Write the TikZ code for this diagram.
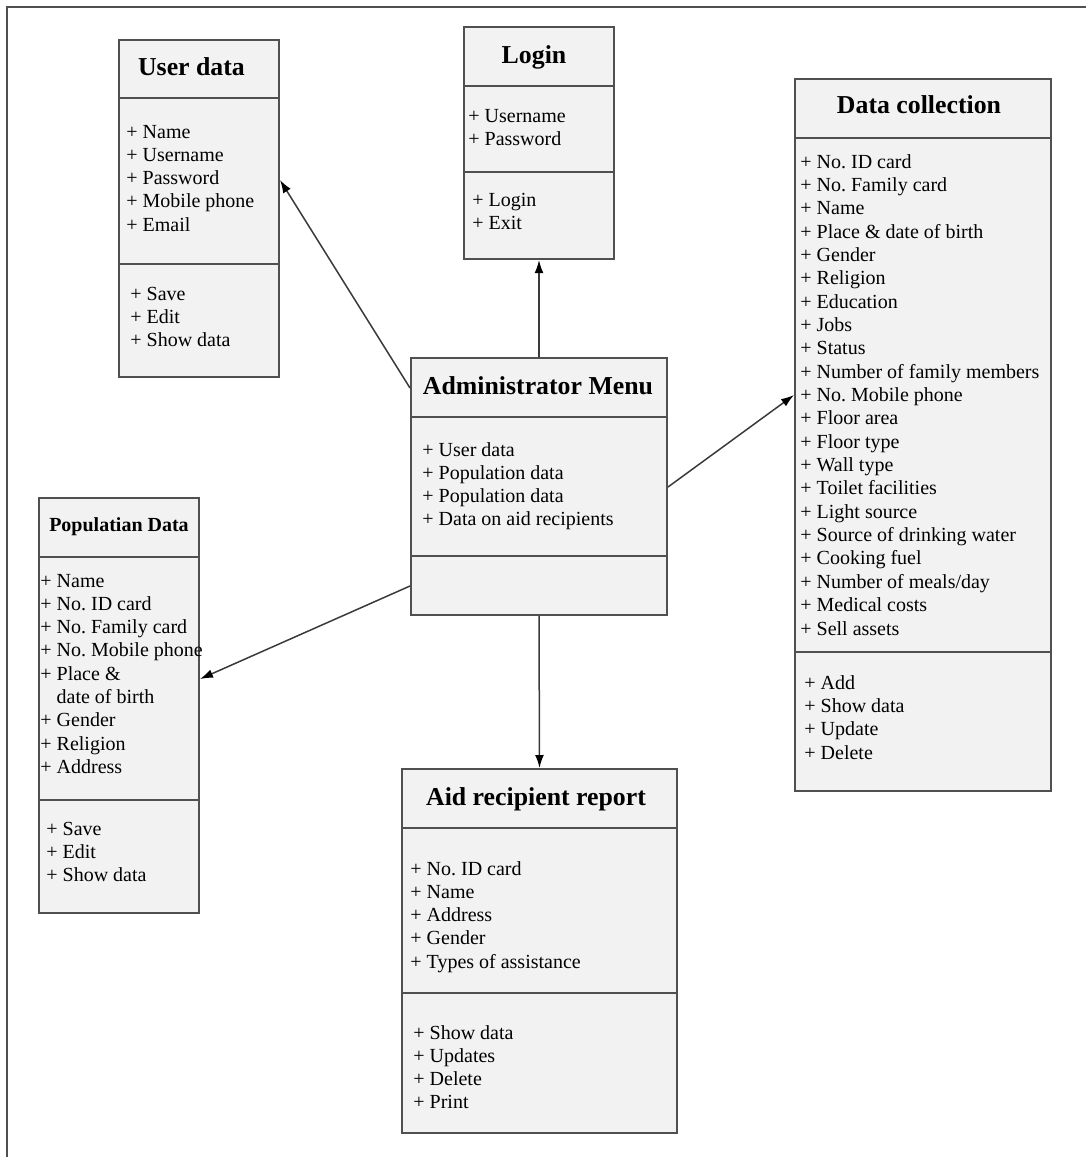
\documentclass[tikz,border=0pt]{standalone}
\usepackage{fontspec}
\setmainfont{Liberation Serif}
\usetikzlibrary{arrows.meta,calc}
\definecolor{boxfill}{HTML}{F2F2F2}
\definecolor{boxline}{HTML}{505050}
\definecolor{lineclr}{HTML}{3A3A3A}
\frenchspacing
\tikzset{
  classbox/.style={draw=boxline, fill=boxfill, line width=1pt, anchor=north west, inner sep=0pt},
  sepline/.style={draw=boxline, line width=1pt},
  conn/.style={draw=lineclr, line width=0.75pt, -{Latex[length=6.5pt,width=4.4pt,color=black]}},
  item/.style={anchor=base west, inner sep=0pt, font=\fontsize{10}{12}\selectfont},
  title/.style={anchor=base, inner sep=0pt, font=\fontsize{12.9}{15}\selectfont\bfseries},
  smalltitle/.style={anchor=base, inner sep=0pt, font=\fontsize{10}{12}\selectfont\bfseries},
}
\begin{document}
\begin{tikzpicture}[x=0.5pt,y=-0.5pt]
\useasboundingbox (0,0) rectangle (1086,1157);
% outer frame
\draw[draw=boxline, line width=1pt] (7,1157) -- (7,7) -- (1086,7);

% ---------- boxes ----------
\node[classbox, minimum width=80pt, minimum height=168.5pt] (user) at (118,39) {};
\node[classbox, minimum width=75pt, minimum height=116pt] (login) at (463,26) {};
\node[classbox, minimum width=128pt, minimum height=356pt] (dc) at (794,78) {};
\node[classbox, minimum width=128pt, minimum height=128.5pt] (admin) at (410,357) {};
\node[classbox, minimum width=80pt, minimum height=207.5pt] (pop) at (38,497) {};
\node[classbox, minimum width=137.5pt, minimum height=182pt] (aid) at (401,768) {};

% ---------- separators ----------
\draw[sepline] (user.west |- 0,98) -- (user.east |- 0,98);
\draw[sepline] (user.west |- 0,264) -- (user.east |- 0,264);
\draw[sepline] (login.west |- 0,86) -- (login.east |- 0,86);
\draw[sepline] (login.west |- 0,172) -- (login.east |- 0,172);
\draw[sepline] (dc.west |- 0,138) -- (dc.east |- 0,138);
\draw[sepline] (dc.west |- 0,652) -- (dc.east |- 0,652);
\draw[sepline] (admin.west |- 0,417) -- (admin.east |- 0,417);
\draw[sepline] (admin.west |- 0,556) -- (admin.east |- 0,556);
\draw[sepline] (pop.west |- 0,557) -- (pop.east |- 0,557);
\draw[sepline] (pop.west |- 0,800) -- (pop.east |- 0,800);
\draw[sepline] (aid.west |- 0,828) -- (aid.east |- 0,828);
\draw[sepline] (aid.west |- 0,993) -- (aid.east |- 0,993);

% ---------- titles ----------
\node[title] (user-t) at (191.5,75) {User data};
\node[title] (login-t) at (534,63.5) {Login};
\node[title] (dc-t) at (919,113.5) {Data collection};
\node[title] (admin-t) at (538,394.5) {Administrator Menu};
\node[smalltitle] (pop-t) at (119,531.5) {Populatian Data};
\node[title] (aid-t) at (536,805.5) {Aid recipient report};

% ---------- items ----------
\foreach \t [count=\i from 0] in {+ Name, + Username, + Password, + Mobile phone, + Email}
  \node[item] (user-a\i) at (126,{138+\i*23.3}) {\t};
\foreach \t [count=\i from 0] in {+ Save, + Edit, + Show data}
  \node[item] (user-m\i) at (130,{300+\i*23.3}) {\t};

\foreach \t [count=\i from 0] in {+ Username, + Password}
  \node[item] (login-a\i) at (468,{122+\i*23.3}) {\t};
\foreach \t [count=\i from 0] in {+ Login, + Exit}
  \node[item] (login-m\i) at (472,{206+\i*23.3}) {\t};

\foreach \t [count=\i from 0] in {+ No. ID card, + No. Family card, + Name, + Place \& date of birth, + Gender, + Religion, + Education, + Jobs, + Status, + Number of family members, + No. Mobile phone, + Floor area, + Floor type, + Wall type, + Toilet facilities, + Light source, + Source of drinking water, + Cooking fuel, + Number of meals/day, + Medical costs, + Sell assets}
  \node[item] (dc-a\i) at (800,{168+\i*23.35}) {\t};
\foreach \t [count=\i from 0] in {+ Add, + Show data, + Update, + Delete}
  \node[item] (dc-m\i) at (804,{689+\i*23.35}) {\t};

\foreach \t [count=\i from 0] in {+ User data, + Population data, + Population data, + Data on aid recipients}
  \node[item] (admin-a\i) at (422,{456+\i*23.3}) {\t};

\foreach \t [count=\i from 0] in {+ Name, + No. ID card, + No. Family card, + No. Mobile phone, + Place \&, \phantom{+ }date of birth, + Gender, + Religion, + Address}
  \node[item] (pop-a\i) at (40,{587+\i*23.3}) {\t};
\foreach \t [count=\i from 0] in {+ Save, + Edit, + Show data}
  \node[item] (pop-m\i) at (46,{835+\i*23.3}) {\t};

\foreach \t [count=\i from 0] in {+ No. ID card, + Name, + Address, + Gender, + Types of assistance}
  \node[item] (aid-a\i) at (410,{875+\i*23.3}) {\t};
\foreach \t [count=\i from 0] in {+ Show data, + Updates, + Delete, + Print}
  \node[item] (aid-m\i) at (413,{1039+\i*23.3}) {\t};

% ---------- connectors ----------
\draw[conn] ($(admin.north west)+(0,31)$) -- ($(user.north east)+(0,141)$);
\draw[conn] (admin.north) -- (login.south);
\draw[conn] ($(admin.north east)+(0,130)$) -- ($(dc.north west)+(0,317)$);
\draw[conn] ($(admin.north west)+(0,229)$) -- ($(pop.north east)+(0,182)$);
\draw[conn] (admin.south) -- (aid.north);
\end{tikzpicture}
\end{document}
